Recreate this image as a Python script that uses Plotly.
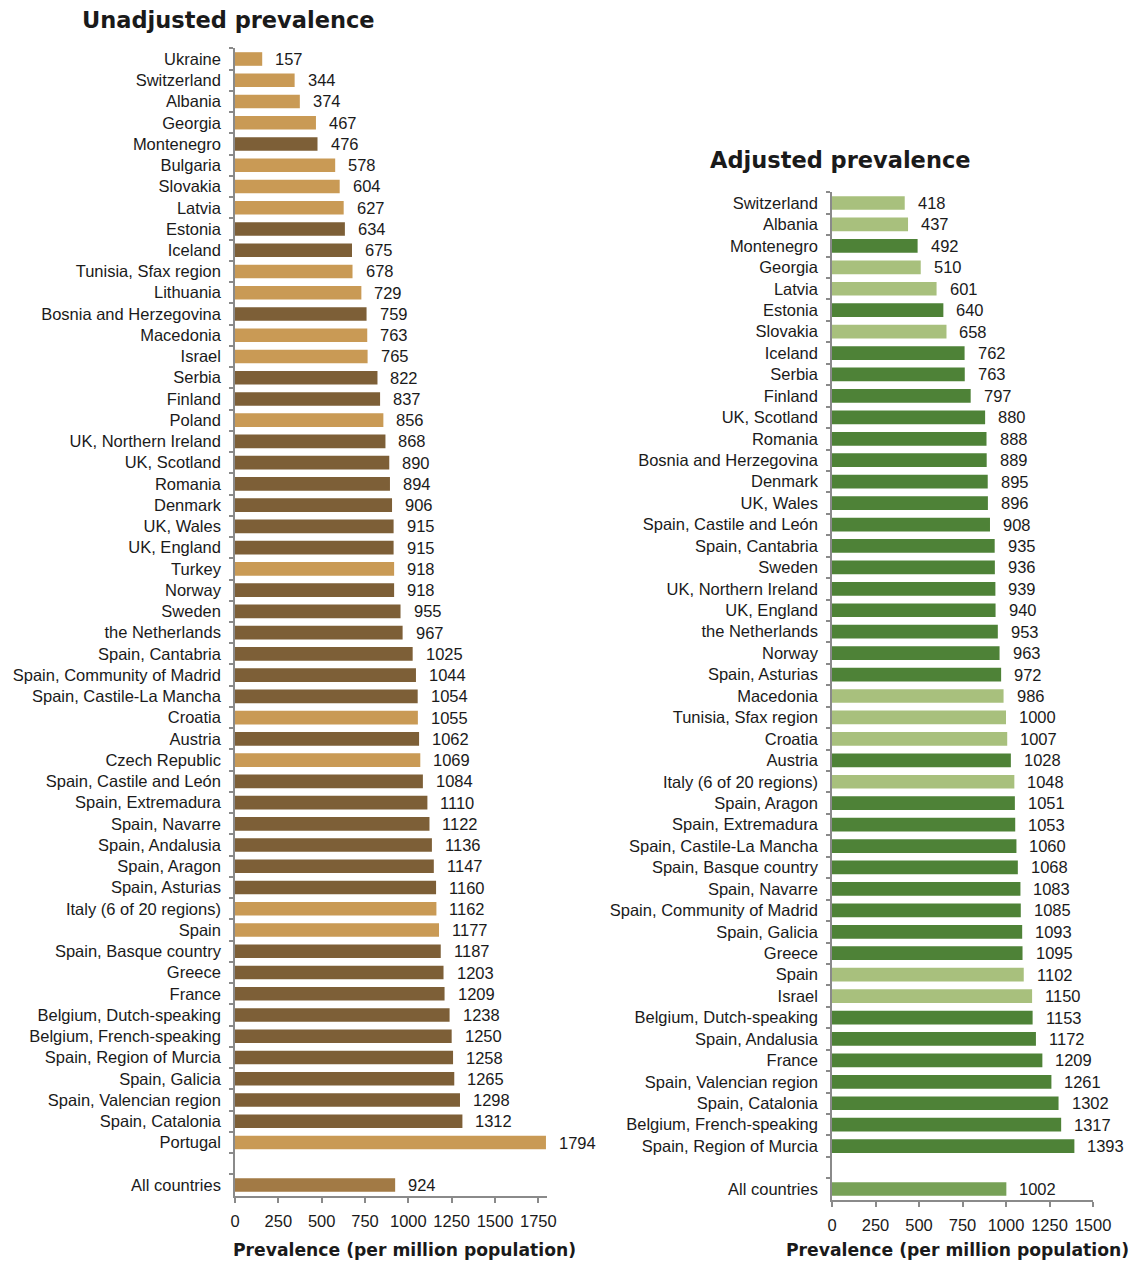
import plotly.graph_objects as go

# ---------------- data ----------------
unadj_names = [
    "Ukraine", "Switzerland", "Albania", "Georgia", "Montenegro", "Bulgaria", "Slovakia",
    "Latvia", "Estonia", "Iceland", "Tunisia, Sfax region", "Lithuania",
    "Bosnia and Herzegovina", "Macedonia", "Israel", "Serbia", "Finland", "Poland",
    "UK, Northern Ireland", "UK, Scotland", "Romania", "Denmark", "UK, Wales", "UK, England",
    "Turkey", "Norway", "Sweden", "the Netherlands", "Spain, Cantabria",
    "Spain, Community of Madrid", "Spain, Castile-La Mancha", "Croatia", "Austria",
    "Czech Republic", "Spain, Castile and León", "Spain, Extremadura", "Spain, Navarre",
    "Spain, Andalusia", "Spain, Aragon", "Spain, Asturias", "Italy (6 of 20 regions)", "Spain",
    "Spain, Basque country", "Greece", "France", "Belgium, Dutch-speaking",
    "Belgium, French-speaking", "Spain, Region of Murcia", "Spain, Galicia",
    "Spain, Valencian region", "Spain, Catalonia", "Portugal", " ", "All countries",
]
unadj_values = [
    157, 344, 374, 467, 476, 578, 604, 627, 634, 675, 678, 729, 759, 763, 765, 822, 837, 856,
    868, 890, 894, 906, 915, 915, 918, 918, 955, 967, 1025, 1044, 1054, 1055, 1062, 1069,
    1084, 1110, 1122, 1136, 1147, 1160, 1162, 1177, 1187, 1203, 1209, 1238, 1250, 1258,
    1265, 1298, 1312, 1794, None, 924,
]
# L = light bar, D = dark bar, A = all countries
unadj_group = [
    "L", "L", "L", "L", "D", "L", "L", "L", "D", "D", "L", "L", "D", "L", "L", "D", "D", "L",
    "D", "D", "D", "D", "D", "D", "L", "D", "D", "D", "D", "D", "D", "L", "D", "L",
    "D", "D", "D", "D", "D", "D", "L", "L", "D", "D", "D", "D", "D", "D",
    "D", "D", "D", "L", "L", "A",
]

adj_names = [
    "Switzerland", "Albania", "Montenegro", "Georgia", "Latvia", "Estonia", "Slovakia",
    "Iceland", "Serbia", "Finland", "UK, Scotland", "Romania", "Bosnia and Herzegovina",
    "Denmark", "UK, Wales", "Spain, Castile and León", "Spain, Cantabria", "Sweden",
    "UK, Northern Ireland", "UK, England", "the Netherlands", "Norway", "Spain, Asturias",
    "Macedonia", "Tunisia, Sfax region", "Croatia", "Austria", "Italy (6 of 20 regions)",
    "Spain, Aragon", "Spain, Extremadura", "Spain, Castile-La Mancha", "Spain, Basque country",
    "Spain, Navarre", "Spain, Community of Madrid", "Spain, Galicia", "Greece", "Spain",
    "Israel", "Belgium, Dutch-speaking", "Spain, Andalusia", "France",
    "Spain, Valencian region", "Spain, Catalonia", "Belgium, French-speaking",
    "Spain, Region of Murcia", " ", "All countries",
]
adj_values = [
    418, 437, 492, 510, 601, 640, 658, 762, 763, 797, 880, 888, 889, 895, 896, 908, 935, 936,
    939, 940, 953, 963, 972, 986, 1000, 1007, 1028, 1048, 1051, 1053, 1060, 1068, 1083, 1085,
    1093, 1095, 1102, 1150, 1153, 1172, 1209, 1261, 1302, 1317, 1393, None, 1002,
]
adj_group = [
    "L", "L", "D", "L", "L", "D", "L", "D", "D", "D", "D", "D", "D", "D", "D", "D", "D", "D",
    "D", "D", "D", "D", "D", "L", "L", "L", "D", "L", "D", "D", "D", "D", "D", "D",
    "D", "D", "L", "L", "D", "D", "D", "D", "D", "D", "D", "L", "A",
]

unadj_ticks = [0, 250, 500, 750, 1000, 1250, 1500, 1750]
adj_ticks = [0, 250, 500, 750, 1000, 1250, 1500]

# ---------------- styles ----------------
brown_col = {"L": "#C99A55", "D": "#7D5F37", "A": "#A27A45"}
green_col = {"L": "#A8C07D", "D": "#4E8237", "A": "#77A157"}
FONT = "Liberation Sans"
TXT = "#1a1a1a"
AX = "#8a8a8a"

# page has an 8px body margin; the figure is sized to fit inside the window exactly
OFF = 8
W, H = 1137 - 2 * OFF, 1269 - 2 * OFF


def px(x):
    return (x - OFF) / W


def py(y):
    return 1 - (y - OFF) / H


fig = go.Figure()
fig.add_trace(go.Bar(
    x=unadj_values, y=unadj_names, orientation="h",
    marker=dict(color=[brown_col[g] for g in unadj_group], line=dict(width=0)),
    xaxis="x", yaxis="y", hoverinfo="x+y", showlegend=False,
))
fig.add_trace(go.Bar(
    x=adj_values, y=adj_names, orientation="h",
    marker=dict(color=[green_col[g] for g in adj_group], line=dict(width=0)),
    xaxis="x2", yaxis="y2", hoverinfo="x+y", showlegend=False,
))

annotations = []
for n, v in zip(unadj_names, unadj_values):
    if v is not None:
        annotations.append(dict(x=v, y=n, xref="x", yref="y", text=str(v), showarrow=False,
                                xanchor="left", xshift=11, font=dict(family=FONT, size=16.5, color=TXT)))
for n, v in zip(adj_names, adj_values):
    if v is not None:
        annotations.append(dict(x=v, y=n, xref="x2", yref="y2", text=str(v), showarrow=False,
                                xanchor="left", xshift=11, font=dict(family=FONT, size=16.5, color=TXT)))

annotations += [
    dict(text="<b>Unadjusted prevalence</b>", x=px(228), y=py(20), xref="paper", yref="paper",
         showarrow=False, xanchor="center", yanchor="middle",
         font=dict(family="DejaVu Sans", size=22.5, color=TXT)),
    dict(text="<b>Adjusted prevalence</b>", x=px(840), y=py(160), xref="paper", yref="paper",
         showarrow=False, xanchor="center", yanchor="middle",
         font=dict(family="DejaVu Sans", size=22.5, color=TXT)),
    dict(text="<b>Prevalence (per million population)</b>", x=px(405), y=0,
         xref="paper", yref="paper", showarrow=False, xanchor="center", yanchor="bottom",
         borderpad=0, font=dict(family="DejaVu Sans", size=17.2, color=TXT)),
    dict(text="<b>Prevalence (per million population)</b>", x=px(957), y=0,
         xref="paper", yref="paper", showarrow=False, xanchor="center", yanchor="bottom",
         borderpad=0, font=dict(family="DejaVu Sans", size=17.2, color=TXT)),
]

common_x = dict(showgrid=False, zeroline=False, showline=True, linecolor=AX, linewidth=1.5,
                ticks="outside", ticklen=5, tickcolor=AX, tickwidth=1.5, ticklabelstandoff=4,
                automargin=False, tickfont=dict(family=FONT, size=16.5, color=TXT))
common_y = dict(type="category", autorange="reversed", showgrid=False, zeroline=False,
                showline=True, linecolor=AX, linewidth=1.5, ticks="outside", ticklen=4,
                tickcolor=AX, tickwidth=1.5, tickson="boundaries", ticklabelstandoff=9,
                automargin=False, tickfont=dict(family=FONT, size=16.5, color=TXT))

fig.update_layout(
    width=W, height=H, autosize=False,
    margin=dict(l=0, r=0, t=0, b=0, autoexpand=False),
    paper_bgcolor="white", plot_bgcolor="white",
    bargap=0.36,
    xaxis=dict(domain=[px(235), px(547)], range=[0, 1800], tickvals=unadj_ticks,
               anchor="y", **common_x),
    yaxis=dict(domain=[py(1196), py(48)], categoryorder="array",
               categoryarray=unadj_names, anchor="x", **common_y),
    xaxis2=dict(domain=[px(832), px(1093)], range=[0, 1500], tickvals=adj_ticks,
                anchor="y2", **common_x),
    yaxis2=dict(domain=[py(1200), py(192)], categoryorder="array",
                categoryarray=adj_names, anchor="x2", **common_y),
    annotations=annotations,
)

fig.write_html("out.html", config={"responsive": False})
